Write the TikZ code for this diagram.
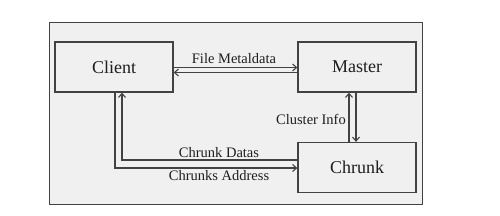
\documentclass[tikz,border=0pt]{standalone}
\usepackage{fontspec}
\setmainfont{Liberation Serif}
\usetikzlibrary{arrows.meta,calc}
\definecolor{linec}{HTML}{424242}
\definecolor{boxfill}{HTML}{F0F0F0}
\definecolor{txt}{HTML}{1E1E1E}
\begin{document}
\begin{tikzpicture}[x=1pt,y=-1pt,
  box/.style={draw=linec, line width=1.3pt, fill=boxfill, minimum width=118pt, minimum height=50pt, inner sep=0pt, text=txt, font=\fontsize{18}{21}\selectfont},
  conn/.style={draw=linec, line width=1.1pt},
  tip/.style={-{Straight Barb[length=4pt,width=7pt]}},
  lbl/.style={font=\fontsize{14.5}{17}\selectfont, inner sep=0pt, text=txt}]
\useasboundingbox (0,0) rectangle (500,215);
\node[draw=linec, line width=1.3pt, fill=boxfill, minimum width=373pt, minimum height=182pt, inner sep=0pt, anchor=north west] (frame) at (49,22) {};
\node[box] (client) at (114,67) {Client};
\node[box] (master) at (357,67) {Master};
\node[box] (chrunk) at (357,167.5) {Chrunk};
% File metadata
\draw[conn,tip] ($(client.east)+(0,0.5)$) -- ($(master.west)+(0,0.5)$);
\draw[conn,tip] ($(master.west)+(0,5.5)$) -- ($(client.east)+(0,5.5)$);
% Cluster info
\draw[conn,tip] ($(chrunk.north)+(-8,0)$) -- ($(master.south)+(-8,0)$);
\draw[conn,tip] ($(master.south)+(-1,0)$) -- ($(chrunk.north)+(-1,0)$);
% Client - Chrunk
\draw[conn,tip] ($(chrunk.west)+(0,-7.5)$) -| ($(client.south)+(8,0)$);
\draw[conn,tip] ($(client.south)+(1,0)$) |- ($(chrunk.west)+(0,0.5)$);
% labels
\node[lbl] (fmlbl) at (234,59) {File Metaldata};
\node[lbl, anchor=east] (cilbl) at (346,119) {Cluster Info};
\node[lbl] (cdlbl) at (219,153) {Chrunk Datas};
\node[lbl] (calbl) at (219,176) {Chrunks Address};
\end{tikzpicture}
\end{document}
